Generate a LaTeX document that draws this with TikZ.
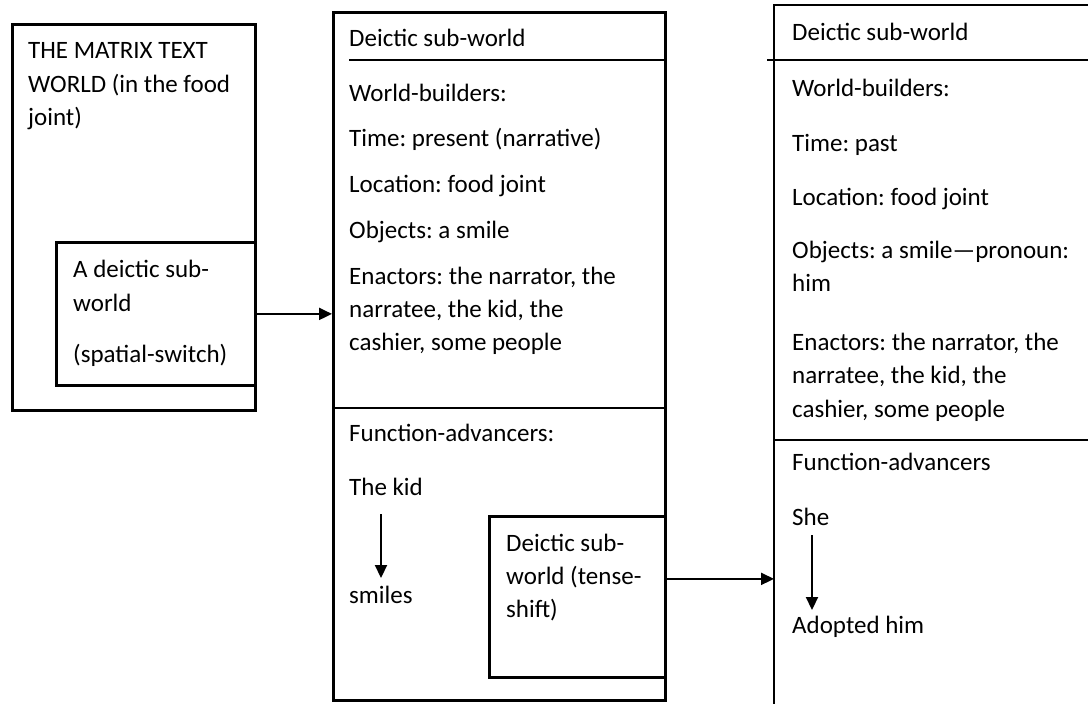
\documentclass[tikz,border=0pt]{standalone}
\usepackage{fontspec}
\setmainfont{Carlito}
\usetikzlibrary{arrows.meta,calc}
\frenchspacing
\begin{document}
\begin{tikzpicture}[x=1pt,y=-1pt,
  frame/.style={draw, line width=2.8pt, inner sep=0pt, anchor=north west},
  rule/.style={line width=2.8pt},
  arr/.style={line width=2.2pt, -{Triangle[length=13pt,width=12pt]}},
  txt/.style={anchor=base west, inner sep=0pt, font=\fontsize{25}{33}\selectfont}]
\useasboundingbox (0,0) rectangle (1088,704);

% ---- matrix text world ----
\node[frame, minimum width=243pt, minimum height=386pt] (matrix) at (11,23) {};
\node[frame, minimum width=199pt, minimum height=143pt] (spatial) at (55,241) {};
\node[txt] (m1) at (28,58)  {THE MATRIX TEXT};
\node[txt] (m2) at (28,92)  {WORLD (in the food};
\node[txt] (m3) at (28,125) {joint)};
\node[txt] (s1) at (73,277) {A deictic sub-};
\node[txt] (s2) at (73,311) {world};
\node[txt] (s3) at (73,362) {(spatial-switch)};

% ---- first deictic sub-world ----
\node[frame, minimum width=332pt, minimum height=688pt] (mid) at (332,11) {};
\draw[rule] (349,60) -- (mid.north east |- 0,60);
\draw[rule] (mid.west |- 0,408) -- (mid.east |- 0,408);
\node[frame, minimum width=176pt, minimum height=161pt] (tense) at (488,515) {};
\node[txt] (d1)  at (349,46)  {Deictic sub-world};
\node[txt] (d2)  at (349,101) {World-builders:};
\node[txt] (d3)  at (349,146) {Time: present (narrative)};
\node[txt] (d4)  at (349,192) {Location: food joint};
\node[txt] (d5)  at (349,238) {Objects: a smile};
\node[txt] (d6)  at (349,284) {Enactors: the narrator, the};
\node[txt] (d7)  at (349,317) {narratee, the kid, the};
\node[txt] (d8)  at (349,350) {cashier, some people};
\node[txt] (d9)  at (349,441) {Function-advancers:};
\node[txt] (kid) at (349,495) {The kid};
\node[txt] (smiles) at (349,603) {smiles};
\node[txt] (t1) at (506,551) {Deictic sub-};
\node[txt] (t2) at (506,584) {world (tense-};
\node[txt] (t3) at (506,617) {shift)};
\coordinate (kidfrom) at (381,514);
\coordinate (kidto) at (381,578);
\draw[arr] (kidfrom) -- (kidto);

% ---- second deictic sub-world (runs past the right edge) ----
\coordinate (rtl) at (774,5);
\coordinate (rbl) at (774,710);
\draw[rule] (1095,5) -- (rtl) -- (rbl);
\draw[rule] (767,60) -- (1095,60);
\draw[rule] (774,440) -- (1095,440);
\node[txt] (r1)  at (792,41)  {Deictic sub-world};
\node[txt] (r2)  at (792,96)  {World-builders:};
\node[txt] (r3)  at (792,151) {Time: past};
\node[txt] (r4)  at (792,205) {Location: food joint};
\node[txt] (r5)  at (792,258) {Objects: a smile—pronoun:};
\node[txt] (r6)  at (792,291) {him};
\node[txt] (r7)  at (792,350) {Enactors: the narrator, the};
\node[txt] (r8)  at (792,383) {narratee, the kid, the};
\node[txt] (r9)  at (792,417) {cashier, some people};
\node[txt] (r10) at (792,470) {Function-advancers};
\node[txt] (she) at (792,525) {She};
\node[txt] (adopted) at (792,633) {Adopted him};
\coordinate (shefrom) at (812,535);
\coordinate (sheto) at (812,610);
\draw[arr] (shefrom) -- (sheto);

% ---- connectors between worlds ----
\draw[arr] (spatial.east) -- (mid.west |- spatial.east);
\coordinate (tenseout) at ($(tense.north east)!0.39!(tense.south east)$);
\draw[arr] (tenseout) -- (tenseout -| rtl);
\end{tikzpicture}
\end{document}
